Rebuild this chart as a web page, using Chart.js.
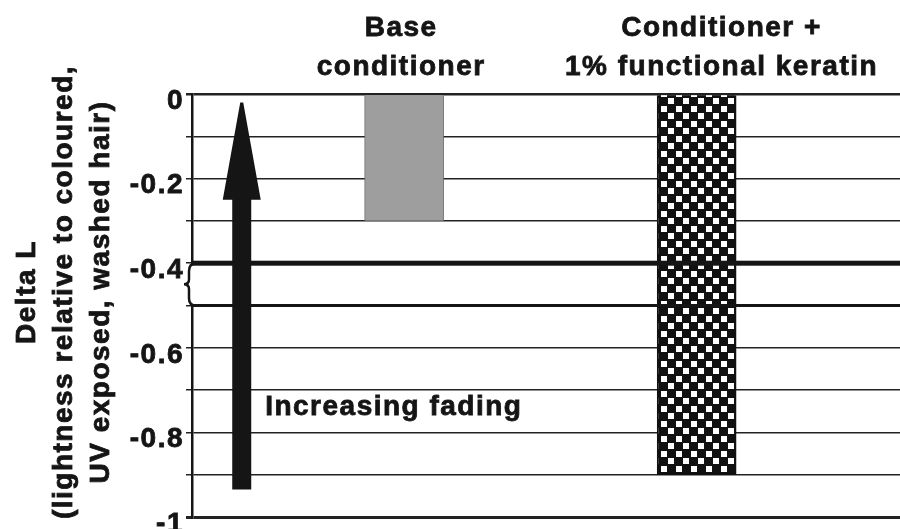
<!DOCTYPE html>
<html>
<head>
<meta charset="utf-8">
<script src="https://cdn.jsdelivr.net/npm/chart.js@4/dist/chart.umd.min.js"></script>
<style>
  body { margin: 0; background: #fff; }
  #wrap { width: 900px; height: 529px; }
</style>
</head>
<body>
<div id="wrap"><canvas id="chart" width="900" height="529"></canvas></div>
<script>
// data
const categories = [["Base", "conditioner"], ["Conditioner +", "1% functional keratin"]];
const categoryPos = [1, 3];
const deltaL = [-0.3, -0.9];
const yTicks = [0, -0.2, -0.4, -0.6, -0.8, -1];
const yTitle = ["Delta L", "(lightness relative to coloured,", "UV exposed, washed hair)"];
const note = "Increasing fading";

// annotation placement, in axis units
const labelPos = [0.98, 3.17];
const arrow = { x: -0.11, tail: -0.935, headBase: -0.25, tip: -0.02 };
const notePos = { x: 0.05, y: -0.74 };
const breakRange = [-0.4, -0.5];

const FAMILY = "'Liberation Sans', Arial, sans-serif";
const FONT = "bold 28px " + FAMILY;
const INK = "#151515";
const STROKE = 0.8;

function checker() {
  const c = document.createElement("canvas");
  c.width = 15; c.height = 15;
  const g = c.getContext("2d");
  g.fillStyle = "#111";
  g.fillRect(0, 0, 15, 15);
  g.fillStyle = "#fff";
  g.fillRect(1, 1, 6, 6);
  g.fillRect(8, 8, 6, 6);
  return g.createPattern(c, "repeat");
}

function heavyText(ctx, t, x, y) {
  ctx.fillText(t, x, y);
  ctx.strokeText(t, x, y);
}

const decor = {
  id: "decor",
  beforeUpdate(chart) { chart.ctx.letterSpacing = "1.5px"; },
  beforeDraw(chart) { chart.ctx.letterSpacing = "1.5px"; },
  afterDatasetsDraw(chart) {
    const { ctx, chartArea: a, scales: { x, y } } = chart;
    ctx.save();
    // axis break
    const yTop = y.getPixelForValue(breakRange[0]);
    const yBot = y.getPixelForValue(breakRange[1]);
    ctx.fillStyle = "#fff";
    ctx.fillRect(a.left - 9, yTop + 2, 13, yBot - yTop - 3);
    ctx.fillStyle = INK;
    ctx.fillRect(a.left, yTop - 2.5, a.right - a.left, 5);
    ctx.fillRect(a.left, yBot - 1.5, a.right - a.left, 3);
    const mid = (yTop + yBot) / 2;
    const bx = a.left - 3;
    ctx.strokeStyle = INK;
    ctx.lineWidth = 2.5;
    ctx.beginPath();
    ctx.moveTo(a.left + 4, yTop);
    ctx.quadraticCurveTo(bx, yTop, bx, yTop + 8);
    ctx.lineTo(bx, mid - 5);
    ctx.quadraticCurveTo(bx, mid, bx - 5, mid);
    ctx.quadraticCurveTo(bx, mid, bx, mid + 5);
    ctx.lineTo(bx, yBot - 7);
    ctx.quadraticCurveTo(bx, yBot, a.left + 4, yBot);
    ctx.stroke();

    // arrow
    const ax = x.getPixelForValue(arrow.x);
    const tipY = y.getPixelForValue(arrow.tip);
    const baseY = y.getPixelForValue(arrow.headBase);
    const endY = y.getPixelForValue(arrow.tail);
    ctx.beginPath();
    ctx.moveTo(ax - 1.5, tipY);
    ctx.lineTo(ax + 1.5, tipY);
    ctx.lineTo(ax + 19, baseY);
    ctx.lineTo(ax + 9.5, baseY);
    ctx.lineTo(ax + 9.5, endY);
    ctx.lineTo(ax - 9.5, endY);
    ctx.lineTo(ax - 9.5, baseY);
    ctx.lineTo(ax - 19, baseY);
    ctx.closePath();
    ctx.fill();

    ctx.font = FONT;
    ctx.letterSpacing = "1.5px";
    ctx.lineWidth = STROKE;
    ctx.textAlign = "left";
    ctx.textBaseline = "middle";
    heavyText(ctx, note, x.getPixelForValue(notePos.x), y.getPixelForValue(notePos.y));
    ctx.restore();
  },
  afterDraw(chart) {
    const { ctx, chartArea: a, scales: { x } } = chart;
    ctx.save();
    ctx.font = FONT;
    ctx.letterSpacing = "1.5px";
    ctx.fillStyle = INK;
    ctx.strokeStyle = INK;
    ctx.lineWidth = STROKE;
    ctx.textAlign = "center";
    ctx.textBaseline = "alphabetic";
    categories.forEach((lines, i) => {
      const cx = x.getPixelForValue(labelPos[i]);
      lines.forEach((t, j) => heavyText(ctx, t, cx, a.top - 58 + j * 39));
    });
    // y axis title, three rotated lines
    const yMid = a.top + 198;
    yTitle.forEach((t, j) => {
      ctx.save();
      ctx.translate(27 + j * 37, yMid);
      ctx.rotate(-Math.PI / 2);
      ctx.textBaseline = "middle";
      heavyText(ctx, t, 0, 0);
      ctx.restore();
    });
    ctx.restore();
  }
};

new Chart(document.getElementById("chart"), {
  type: "bar",
  data: {
    datasets: [{
      data: deltaL.map((v, i) => ({ x: categoryPos[i], y: v })),
      backgroundColor: ["#9e9e9e", checker()],
      borderColor: ["#6a6a6a", "#111"],
      borderWidth: [1, 2],
      barThickness: 79,
    }],
  },
  options: {
    responsive: false,
    animation: false,
    devicePixelRatio: 1,
    layout: { padding: { top: 94, bottom: 12, left: 0, right: 0 } },
    plugins: { legend: { display: false }, tooltip: { enabled: false } },
    scales: {
      x: { type: "linear", min: -0.45, max: 4.39, offset: false, display: false },
      y: {
        min: -1,
        max: 0,
        afterFit(scale) {
          scale.width = 192;
          scale.paddingTop = 0;
          scale.paddingBottom = 0;
        },
        border: { display: true, color: INK, width: 2.5 },
        grid: {
          color: "#222",
          tickLength: 6,
          lineWidth: (c) => {
            if (!c.tick) return 1.5;
            const v = Math.round(c.tick.value * 10);
            return v === 0 ? 2.5 : v === -10 ? 3 : 1.5;
          },
        },
        ticks: {
          stepSize: 0.1,
          autoSkip: false,
          padding: 2,
          labelOffset: 7,
          color: INK,
          textStrokeColor: INK,
          textStrokeWidth: STROKE,
          font: { family: FAMILY, size: 28, weight: "bold" },
          callback: (v) => {
            const r = Math.round(v * 10) / 10;
            return yTicks.some((t) => Math.abs(t - r) < 1e-9) ? String(r) : "";
          },
        },
      },
    },
  },
  plugins: [decor],
});
</script>
</body>
</html>
